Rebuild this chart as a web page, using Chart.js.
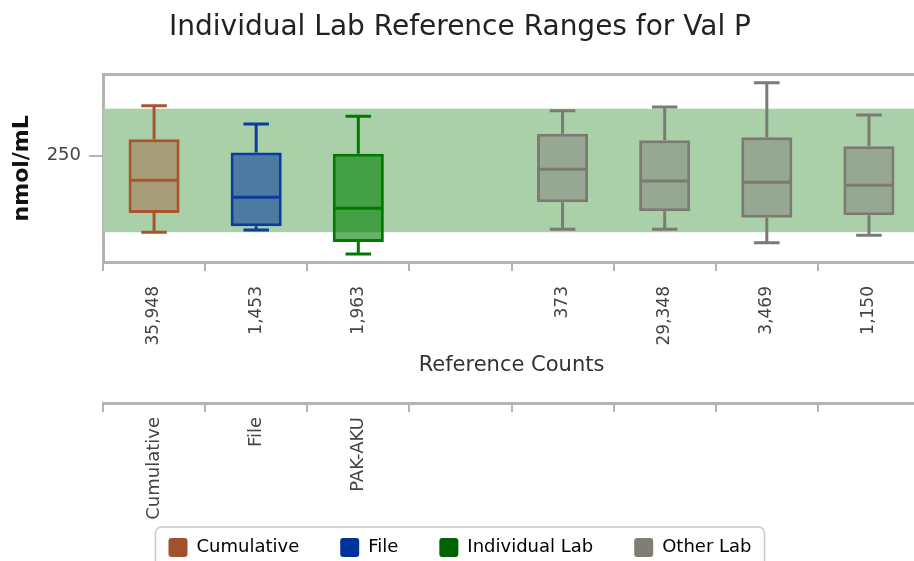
<!DOCTYPE html>
<html>
<head>
<meta charset="utf-8">
<script src="https://cdn.jsdelivr.net/npm/chart.js@4.4.1/dist/chart.umd.min.js"></script>
<style>
  html, body { margin: 0; padding: 0; overflow: hidden; background: #fff; }
</style>
</head>
<body>
<canvas id="box-chart" width="920" height="567"></canvas>
<script>
// reference counts (first x axis) and source names (second x axis)
const counts = ['35,948', '1,453', '1,963', '', '373', '29,348', '3,469', '1,150'];
const sources = ['Cumulative', 'File', 'PAK-AKU', '', '', '', '', ''];
const groups = ['Cumulative', 'File', 'Individual Lab', null, 'Other Lab', 'Other Lab', 'Other Lab', 'Other Lab'];

// box plot values, nmol/mL
const whiskerLow  = [70, 75, 19, null, 77, 77, 45, 63];
const q1          = [115, 84, 47, null, 140, 119, 104, 110];
const median      = [192, 152, 126, null, 218, 190, 187, 180];
const q3          = [288, 257, 254, null, 301, 286, 293, 272];
const whiskerHigh = [367, 324, 342, null, 355, 364, 421, 345];

// lab reference range band
const refLow = 70;
const refHigh = 360;
const yTicks = [250];

const seriesNames = ['Cumulative', 'File', 'Individual Lab', 'Other Lab'];
const boxFills = ['rgba(160,82,45,0.4)', 'rgba(0,51,153,0.55)', 'rgba(0,128,0,0.6)', 'rgba(128,124,116,0.47)'];
const boxLines = ['rgb(168,84,44)', 'rgb(10,60,160)', 'rgb(0,122,0)', 'rgb(125,122,115)'];
const legendColors = ['rgb(160,82,45)', 'rgb(0,51,153)', 'rgb(0,100,0)', 'rgb(128,125,115)'];

const axisGrey = '#b3b3b3';
const FONT = 'DejaVu Sans';

const boxExtras = {
    id: 'boxExtras',
    beforeDatasetsDraw(chart) {
        const { ctx, chartArea, scales: { y } } = chart;
        const top = y.getPixelForValue(refHigh);
        const bot = y.getPixelForValue(refLow);
        ctx.save();
        ctx.fillStyle = 'rgb(170,208,170)';
        ctx.fillRect(chartArea.left, top, chartArea.right - chartArea.left, bot - top);
        ctx.restore();
    },
    afterDatasetsDraw(chart) {
        const { ctx, scales: { y } } = chart;
        chart.data.datasets.forEach((ds, di) => {
            const meta = chart.getDatasetMeta(di);
            meta.data.forEach((bar, i) => {
                if (ds.data[i] == null) return;
                const x = bar.x;
                const half = bar.width / 2;
                const cap = half / 2;
                const yLo = y.getPixelForValue(whiskerLow[i]);
                const yQ1 = y.getPixelForValue(q1[i]);
                const yMed = y.getPixelForValue(median[i]);
                const yQ3 = y.getPixelForValue(q3[i]);
                const yHi = y.getPixelForValue(whiskerHigh[i]);
                ctx.save();
                ctx.strokeStyle = ds.borderColor;
                ctx.lineWidth = 3;
                ctx.beginPath();
                ctx.moveTo(x - half + 1, yMed); ctx.lineTo(x + half - 1, yMed);
                ctx.moveTo(x, yQ3); ctx.lineTo(x, yHi);
                ctx.moveTo(x - cap, yHi); ctx.lineTo(x + cap, yHi);
                ctx.moveTo(x, yQ1); ctx.lineTo(x, yLo);
                ctx.moveTo(x - cap, yLo); ctx.lineTo(x + cap, yLo);
                ctx.stroke();
                ctx.restore();
            });
        });
    },
    afterDraw(chart) {
        const { ctx, chartArea } = chart;
        ctx.save();
        ctx.strokeStyle = axisGrey;
        ctx.lineWidth = 3;
        ctx.beginPath();
        ctx.moveTo(chartArea.left, chartArea.top);
        ctx.lineTo(chartArea.right, chartArea.top);
        ctx.stroke();
        // border round the legend
        const hb = chart.legend.legendHitBoxes;
        if (hb && hb.length) {
            const left = Math.min(...hb.map(h => h.left)) - 13;
            const right = Math.max(...hb.map(h => h.left + h.width)) + 13;
            const top = hb[0].top - 11;
            ctx.strokeStyle = '#c8c8c8';
            ctx.lineWidth = 1.5;
            ctx.beginPath();
            ctx.roundRect(left, top, right - left, 80, 6);
            ctx.stroke();
        }
        ctx.restore();
    }
};

const datasets = seriesNames.map((name, si) => ({
    label: name,
    data: groups.map((g, i) => (g === name ? [q1[i], q3[i]] : null)),
    backgroundColor: boxFills[si],
    borderColor: boxLines[si],
    borderWidth: 3,
    borderSkipped: false,
    grouped: false,
    barPercentage: 0.5,
    categoryPercentage: 1
}));

const ctx = document.getElementById('box-chart');
new Chart(ctx, {
    type: 'bar',
    data: { labels: counts, datasets },
    options: {
        responsive: false,
        animation: false,
        plugins: {
            title: {
                display: true,
                text: 'Individual Lab Reference Ranges for Val P',
                color: '#222',
                font: { family: FONT, size: 28, weight: 'normal' },
                padding: { top: 11, bottom: 30 }
            },
            tooltip: { enabled: false },
            legend: {
                position: 'bottom',
                labels: {
                    boxWidth: 19,
                    boxHeight: 19,
                    padding: 41,
                    color: '#333',
                    font: { family: FONT, size: 18 },
                    useBorderRadius: true,
                    borderRadius: 3,
                    generateLabels: (chart) => chart.data.datasets.map((ds, i) => ({
                        text: ds.label,
                        fillStyle: legendColors[i],
                        strokeStyle: legendColors[i],
                        lineWidth: 0,
                        hidden: false,
                        borderRadius: 3,
                        datasetIndex: i
                    }))
                }
            }
        },
        scales: {
            x: {
                type: 'category',
                labels: counts,
                offset: true,
                grid: { offset: true, drawOnChartArea: false, tickLength: 9, color: axisGrey, lineWidth: 2 },
                border: { color: axisGrey, width: 3 },
                ticks: {
                    autoSkip: false, minRotation: 90, maxRotation: 90, padding: 15,
                    color: '#444', font: { family: FONT, size: 17 }
                },
                title: {
                    display: true, text: 'Reference Counts', color: '#333',
                    font: { family: FONT, size: 21 }, padding: { top: 4, bottom: 25 }
                },
                afterFit: (s) => { s.height = 141; }
            },
            x2: {
                type: 'category',
                labels: sources,
                position: 'bottom',
                offset: true,
                grid: { offset: true, drawOnChartArea: false, tickLength: 9, color: axisGrey, lineWidth: 2 },
                border: { color: axisGrey, width: 3 },
                ticks: {
                    autoSkip: false, minRotation: 90, maxRotation: 90, padding: 5,
                    color: '#444', font: { family: FONT, size: 18 }
                },
                afterFit: (s) => {
                    s.height = 94;
                    // the long names run past the axis box, so do not clip them
                    s._computeLabelArea = () => undefined;
                }
            },
            y: {
                min: 0,
                max: 440,
                afterBuildTicks: (s) => { s.ticks = yTicks.map(v => ({ value: v })); },
                grid: { drawOnChartArea: false, tickLength: 14, color: axisGrey, lineWidth: 2 },
                border: { color: axisGrey, width: 3 },
                ticks: { padding: 8, color: '#444', font: { family: FONT, size: 18 } },
                title: {
                    display: true, text: 'nmol/mL', color: '#111',
                    font: { family: FONT, size: 22, weight: 'bold' }, padding: { top: 9, bottom: 0 }
                },
                afterFit: (s) => { s.width = 103; }
            }
        }
    },
    plugins: [boxExtras]
});
</script>
</body>
</html>
